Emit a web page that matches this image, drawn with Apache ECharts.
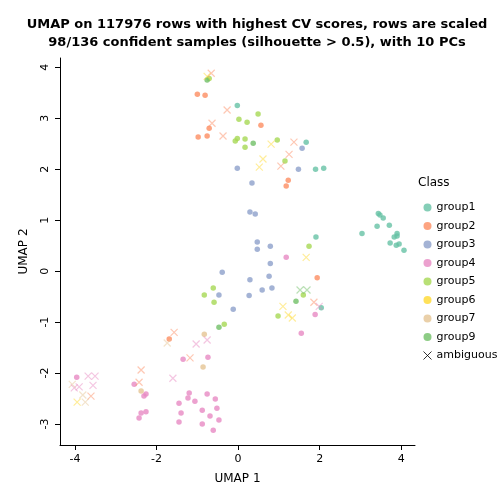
<!DOCTYPE html>
<html><head><meta charset="utf-8">
<script src="https://cdn.jsdelivr.net/npm/echarts@6/dist/echarts.min.js"></script>
<style>html,body{margin:0;padding:0;background:#fff}#c{width:504px;height:504px}</style>
</head><body><div id="c"></div>
<script>
const groupNames=['group1','group2','group3','group4','group5','group6','group7','group9'];
const groupColors=['#66C2A5','#FC8D62','#8DA0CB','#E78AC3','#A6D854','#FFD92F','#E5C494','#71BF67'];
const xTicks=[-4,-2,0,2,4];
const yTicks=[-3,-2,-1,0,1,2,3,4];
const group1=[[-0.02,3.25],[1.67,2.53],[1.9,2.0],[2.1,2.02],[1.91,0.67],[2.04,-0.72],[3.44,1.13],[3.48,1.1],[3.56,1.04],[3.41,0.88],[3.71,0.9],[3.04,0.74],[3.9,0.74],[3.9,0.69],[3.83,0.67],[3.73,0.55],[3.88,0.51],[3.95,0.53],[4.07,0.41]];
const group2=[[-1.0,3.47],[-0.81,3.45],[0.56,2.86],[-0.71,2.8],[-0.98,2.63],[-0.76,2.65],[1.23,1.78],[1.18,1.67],[1.94,-0.13],[-1.69,-1.33]];
const group3=[[1.57,2.41],[-0.02,2.02],[1.48,2.0],[0.34,1.73],[0.29,1.16],[0.42,1.12],[0.47,0.57],[0.47,0.43],[0.79,0.49],[0.79,0.15],[-0.39,-0.02],[0.76,-0.1],[0.29,-0.17],[0.83,-0.33],[0.59,-0.37],[0.27,-0.48],[-0.47,-0.47],[-0.12,-0.75]];
const group4=[[1.18,0.27],[1.89,-0.85],[1.55,-1.22],[-0.74,-1.69],[-1.35,-1.73],[-2.55,-2.22],[-2.26,-2.41],[-2.31,-2.45],[-2.38,-2.78],[-2.26,-2.76],[-2.43,-2.88],[-3.96,-2.08],[-1.2,-2.39],[-1.23,-2.49],[-1.06,-2.55],[-1.45,-2.59],[-0.76,-2.41],[-0.56,-2.51],[-0.52,-2.69],[-0.88,-2.73],[-1.4,-2.78],[-0.69,-2.84],[-0.47,-2.92],[-1.45,-2.96],[-0.88,-3.0],[-0.61,-3.12]];
const group5=[[-0.71,3.78],[0.49,3.08],[0.02,2.98],[0.22,2.92],[-0.02,2.6],[-0.07,2.55],[0.17,2.59],[0.17,2.43],[0.96,2.57],[1.15,2.16],[1.74,0.49],[-0.61,-0.33],[-0.83,-0.47],[-0.59,-0.61],[1.6,-0.47],[0.98,-0.88],[-0.34,-1.04]];
const group6=[];
const group7=[[-0.83,-1.24],[-0.86,-1.88],[-2.38,-2.35]];
const group9=[[-0.76,3.75],[0.37,2.51],[1.42,-0.59],[-0.47,-1.1]];
// ambiguous: [x, y, index of nearest group colour]
const ambiguous=[[-0.66,3.88,1],[-0.76,3.82,5],[-0.27,3.16,1],[-0.64,2.9,1],[-0.37,2.65,1],[0.81,2.49,5],[1.37,2.53,1],[1.25,2.29,1],[1.05,2.06,1],[0.61,2.2,5],[0.52,2.04,5],[1.67,0.27,5],[1.52,-0.37,7],[1.69,-0.37,7],[1.86,-0.61,1],[1.99,-0.69,3],[1.1,-0.69,5],[1.23,-0.86,5],[1.33,-0.92,5],[-1.57,-1.2,1],[-1.74,-1.41,6],[-1.03,-1.43,3],[-0.76,-1.35,3],[-1.18,-1.7,1],[-1.6,-2.1,3],[-2.38,-1.94,1],[-2.43,-2.18,1],[-3.68,-2.06,3],[-3.51,-2.06,3],[-4.07,-2.22,6],[-4.02,-2.29,3],[-3.9,-2.27,3],[-3.56,-2.24,3],[-3.81,-2.43,6],[-3.61,-2.45,1],[-3.95,-2.57,5],[-3.75,-2.57,6]];
const groupData=[group1,group2,group3,group4,group5,group6,group7,group9];
const cross='path://M0,0L10,10M10,0L0,10';
function fade(hex){const n=parseInt(hex.slice(1),16);const r=n>>16,g=(n>>8)&255,b=n&255;return `rgba(${r},${g},${b},0.6)`;}
const series=groupNames.map((n,i)=>({name:n,type:'scatter',data:groupData[i],symbol:'circle',symbolSize:5.5,itemStyle:{color:groupColors[i]}}));
series.push({name:'ambiguous',type:'scatter',symbol:cross,symbolSize:7,
  data:ambiguous.map(a=>({value:[a[0],a[1]],itemStyle:{borderColor:fade(groupColors[a[2]])}})),
  itemStyle:{color:'transparent',borderColor:'#000',borderWidth:1.2}});
const chart=echarts.init(document.getElementById('c'));
chart.setOption({
  animation:false,
  title:{text:'UMAP on 117976 rows with highest CV scores, rows are scaled\n98/136 confident samples (silhouette > 0.5), with 10 PCs',left:252,top:11,textAlign:'center',
    textStyle:{fontFamily:'DejaVu Sans',fontSize:13,fontWeight:'bold',color:'#000',lineHeight:18}},
  grid:{left:60,right:89,top:58,bottom:59},
  xAxis:{type:'value',min:-4.37,max:4.34,name:'UMAP 1',nameLocation:'middle',nameGap:28,
    nameTextStyle:{fontFamily:'DejaVu Sans',fontSize:12,color:'#000'},
    axisLine:{show:true,onZero:false,lineStyle:{color:'#000'}},
    axisTick:{show:true,customValues:xTicks,length:5,lineStyle:{color:'#000'}},
    axisLabel:{customValues:xTicks,color:'#000',fontFamily:'DejaVu Sans',fontSize:11,margin:9},
    splitLine:{show:false}},
  yAxis:{type:'value',min:-3.41,max:4.18,name:'UMAP 2',nameLocation:'middle',nameGap:30,
    nameTextStyle:{fontFamily:'DejaVu Sans',fontSize:12,color:'#000'},
    axisLine:{show:true,onZero:false,lineStyle:{color:'#000'}},
    axisTick:{show:true,customValues:yTicks,length:5,lineStyle:{color:'#000'}},
    axisLabel:{customValues:yTicks,rotate:90,color:'#000',fontFamily:'DejaVu Sans',fontSize:11,margin:9},
    splitLine:{show:false}},
  legend:{orient:'vertical',left:418,top:197,itemGap:7.5,itemWidth:8,itemHeight:8,
    textStyle:{fontFamily:'DejaVu Sans',fontSize:11,color:'#000'},
    data:groupNames.map((n,i)=>({name:n,icon:'circle',itemStyle:{color:groupColors[i]}})).concat([{name:'ambiguous',icon:cross,itemStyle:{color:'transparent',borderColor:'#000',borderWidth:1}}])},
  graphic:[{type:'text',left:418,top:177,style:{text:'Class',font:'12px DejaVu Sans',fill:'#000'}}],
  series
});
</script></body></html>
